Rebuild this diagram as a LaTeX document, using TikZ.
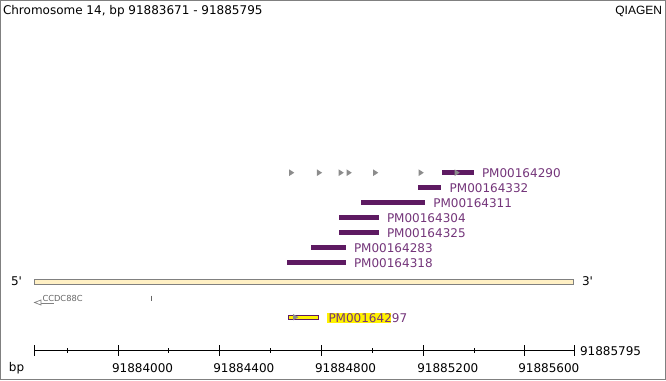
\documentclass[tikz,border=0pt]{standalone}
\usepackage{fontspec}
\setmainfont{DejaVu Sans}
\newfontfamily\arialf{Liberation Sans}
\definecolor{barpurple}{HTML}{5E1A62}
\definecolor{txtpurple}{HTML}{74357A}
\definecolor{frame}{HTML}{808080}
\definecolor{cream}{HTML}{FFF0C4}
\definecolor{tri}{HTML}{8C8C8C}
\begin{document}
\begin{tikzpicture}[x=1pt,y=-1pt,
  every node/.style={inner sep=0pt,outer sep=0pt},
  lbl/.style={anchor=west,font=\fontsize{12}{12}\selectfont,text=txtpurple},
  axlbl/.style={anchor=west,font=\fontsize{12}{12}\selectfont,text=black},
  hit/.style={fill=barpurple},
  trimark/.style={fill=tri},
  majtick/.style={draw=black,line width=1pt},
  mintick/.style={draw=black,line width=0.8pt}]
\useasboundingbox (0,0) rectangle (666,380);
\draw[frame,line width=1pt] (0.5,0.5) rectangle (665.5,379.5);
\node[anchor=west,font=\fontsize{12}{12}\selectfont] (title) at (3,11) {Chromosome 14, bp 91883671 - 91885795};
\node[anchor=east,font=\arialf\fontsize{12}{12}\selectfont] (qiagen) at (662,11) {QIAGEN};
% track bars
\fill[hit] (442,170.3) rectangle (474,175);
\fill[hit] (418.3,185) rectangle (440.7,189.7);
\fill[hit] (361,200) rectangle (424.7,204.7);
\fill[hit] (339,215) rectangle (378.7,219.7);
\fill[hit] (339,230) rectangle (378.7,234.7);
\fill[hit] (311,245) rectangle (346,249.7);
\fill[hit] (287,260) rectangle (346,264.7);
% triangles
\foreach \tx in {289,316.8,338.5,346.5,373,418.5,454.5}{
  \fill[trimark] (\tx,169.3) -- (\tx+5.3,172.7) -- (\tx,176.1) -- cycle;
}
\node[lbl] (p290) at (482,173) {PM00164290};
\node[lbl] (p332) at (449.7,188) {PM00164332};
\node[lbl] (p311) at (433.3,203) {PM00164311};
\node[lbl] (p304) at (387,218) {PM00164304};
\node[lbl] (p325) at (387,233) {PM00164325};
\node[lbl] (p283) at (354,248) {PM00164283};
\node[lbl] (p318) at (354,263) {PM00164318};
% chromosome bar
\filldraw[fill=cream,draw=frame,line width=0.9pt] (34.5,279.5) rectangle (573.5,284.3);
\node[anchor=west,font=\fontsize{12}{12}\selectfont] (five) at (11,281.5) {5\textquotesingle};
\node[anchor=west,font=\fontsize{12}{12}\selectfont] (three) at (582,281.5) {3\textquotesingle};
% gene CCDC88C
\coordinate (gs) at (53.5,303.5);
\coordinate (ge) at (34.5,303.5);
\draw[frame,line width=0.7pt] (gs) -- (41,303.5);
\draw[frame,line width=0.7pt,fill=white] (41,300) -- (34.5,302.5) -- (41,305) -- cycle;
\node[anchor=west,font=\fontsize{8.3}{8.3}\selectfont,text=black!60] (gene) at (42.5,298.5) {CCDC88C};
\draw[black!60,line width=0.8pt] (151,295.7) -- (151,301);
% PM00164297
\fill[yellow] (326.7,312.7) rectangle (390.7,323.3);
\filldraw[fill=yellow,draw=barpurple,line width=1pt] (288.5,315) rectangle (318.3,319.5);
\fill[trimark] (293,314) -- (298.5,317.2) -- (293,320.4) -- cycle;
\node[lbl] (p297) at (328.5,318.5) {PM00164297};
% axis
\coordinate (a0) at (34.3,350.7);
\coordinate (a1) at (574.3,350.7);
\draw[black,line width=1pt] (a0) -- (a1);
\foreach \mx in {34.3,118.3,219.3,321,423.3,524.3,574.3}{
  \draw[majtick] (\mx,345) -- (\mx,356);
}
\foreach \mx in {67.7,168.3,270,372.3,474.3}{
  \draw[mintick] (\mx,348) -- (\mx,353);
}
\node[axlbl] (bp) at (9,368) {bp};
\node[axlbl] (l1) at (112,368) {91884000};
\node[axlbl] (l2) at (213.3,368) {91884400};
\node[axlbl] (l3) at (315,368) {91884800};
\node[axlbl] (l4) at (417.3,368) {91885200};
\node[axlbl] (l5) at (518.3,368) {91885600};
\node[axlbl] (lend) at (580,351) {91885795};
\end{tikzpicture}
\end{document}
